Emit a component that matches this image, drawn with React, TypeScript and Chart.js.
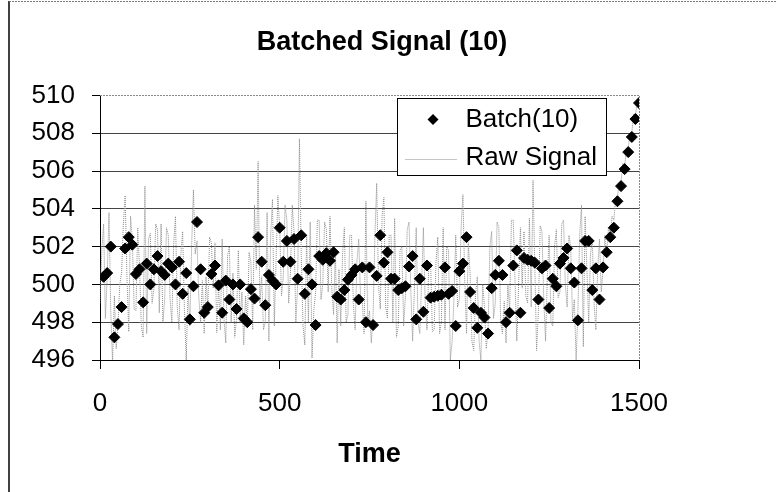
import { useEffect, useRef } from 'react';
import { Chart, registerables } from 'chart.js';

Chart.register(...registerables);

const FONT = "'Liberation Sans', Arial, sans-serif";
const TITLE = 'Batched Signal (10)';
const X_TITLE = 'Time';
const BATCH_LABEL = 'Batch(10)';
const RAW_LABEL = 'Raw Signal';
const BATCH_SIZE = 10;
const RAW_STEP = 5;
const X_TICKS = [0, 500, 1000, 1500];
const Y_TICKS = [496, 498, 500, 502, 504, 506, 508, 510];

// Batch(10): one averaged value per 10 time units (t = 10 ... 1500)
const batchValues = [
  500.4, 500.6, 502.0, 497.2, 497.9, 498.8, 501.9, 502.5, 502.1, 500.55,
  500.8, 499.05, 501.1, 500.0, 500.8, 501.5, 500.7, 500.5, 501.1, 500.9,
  500.0, 501.2, 499.5, 500.6, 498.15, 499.9, 503.3, 500.8, 498.5, 498.8,
  500.55, 501.0, 499.95, 498.5, 500.2, 499.2, 500.0, 498.7, 500.0, 498.2,
  498.0, 499.75, 499.25, 502.5, 501.2, 498.9, 500.5, 500.2, 500.0, 503.0,
  501.2, 502.3, 501.2, 502.4, 500.3, 502.6, 499.5, 500.8, 500.0, 497.85,
  501.5, 501.3, 501.65, 501.25, 501.7, 499.35, 499.2, 499.7, 500.25, 500.5,
  500.8, 499.2, 500.9, 498.0, 500.9, 497.85, 500.45, 502.6, 501.15, 501.7,
  500.3, 500.3, 499.7, 499.8, 499.9, 500.95, 501.5, 498.15, 500.3, 498.55,
  501.0, 499.3, 499.35, 499.4, 499.45, 500.9, 499.5, 499.65, 497.8, 500.7,
  501.1, 502.5, 499.6, 498.75, 497.7, 498.5, 498.25, 497.4, 499.8, 500.5,
  501.25, 500.5, 498.0, 498.5, 501.0, 501.8, 498.5, 501.4, 501.3, 501.25,
  501.15, 499.2, 500.85, 501.0, 498.75, 500.3, 499.9, 501.1, 501.4, 501.9,
  500.85, 500.1, 498.1, 500.85, 502.3, 502.3, 499.7, 500.85, 499.2, 500.9,
  501.7, 502.5, 503.0, 504.4, 505.2, 506.1, 507.0, 507.8, 508.75, 509.6,
];

// Raw signal, sampled every 5 time units (t = 0 ... 1500)
const rawValues = [
  499.0, 501.8, 503.2, 498.2, 500.4, 503.8, 498.6, 495.8, 499.4, 496.6, 497.8, 500.0, 500.6, 503.2, 504.7, 500.4, 497.5, 503.6, 502.4, 498.7,
  498.6, 503.0, 500.9, 497.8, 497.2, 505.2, 497.4, 502.4, 502.7, 499.0, 499.8, 503.2, 502.9, 498.5, 503.2, 498.0, 499.2, 503.0, 502.6, 499.2,
  498.0, 502.1, 503.6, 498.8, 497.6, 501.6, 502.8, 498.6, 496.0, 499.8, 497.8, 502.0, 505.0, 501.6, 502.3, 499.3, 498.0, 500.2, 497.4, 500.4,
  498.6, 502.5, 502.2, 499.8, 502.2, 497.45, 500.0, 497.6, 502.4, 498.2, 496.9, 501.5, 502.0, 498.0, 500.6, 497.2, 498.2, 501.8, 498.0, 499.6,
  496.8, 499.4, 497.8, 501.7, 501.2, 497.6, 504.2, 500.8, 506.5, 499.0, 500.4, 497.6, 498.0, 503.8, 497.0, 502.6, 504.5, 497.8, 501.3, 504.7,
  503.0, 499.4, 500.4, 504.2, 503.4, 499.0, 500.6, 504.2, 502.8, 498.0, 500.0, 507.7, 501.6, 497.8, 496.8, 502.6, 498.0, 503.3, 496.1, 498.6,
  499.6, 503.4, 503.4, 499.2, 500.0, 503.3, 502.9, 499.6, 503.6, 499.8, 498.4, 501.8, 496.9, 500.8, 497.8, 501.6, 503.0, 498.0, 498.4, 502.6,
  502.6, 499.0, 497.6, 501.2, 502.4, 499.4, 499.1, 497.4, 504.4, 498.0, 498.6, 496.9, 498.4, 502.5, 505.35, 500.0, 498.7, 503.6, 504.6, 498.8,
  498.2, 502.6, 502.6, 498.0, 503.5, 497.2, 497.8, 501.8, 502.0, 497.8, 499.4, 502.9, 503.3, 499.7, 497.0, 499.7, 503.0, 498.0, 497.4, 500.1,
  503.0, 499.0, 497.6, 501.0, 501.2, 497.5, 497.6, 501.2, 502.5, 497.4, 498.0, 503.0, 497.6, 502.0, 501.8, 496.0, 497.0, 499.2, 502.6, 498.8,
  499.2, 503.0, 504.75, 500.25, 497.4, 502.2, 500.6, 497.0, 496.5, 499.4, 500.4, 497.0, 496.0, 500.0, 498.8, 496.6, 497.6, 502.0, 502.8, 498.2,
  499.0, 503.3, 503.0, 498.0, 497.4, 499.1, 496.9, 500.0, 498.6, 503.4, 503.4, 500.2, 497.0, 500.0, 503.0, 499.8, 502.8, 499.4, 499.0, 503.5,
  498.8, 505.5, 501.0, 496.5, 498.6, 503.1, 502.8, 499.2, 497.0, 500.5, 502.6, 498.0, 497.8, 502.0, 502.9, 499.3, 499.6, 503.2, 503.4, 500.0,
  498.8, 502.6, 502.0, 498.2, 499.2, 496.0, 498.6, 502.6, 504.2, 496.7, 503.6, 500.8, 498.0, 501.6, 502.4, 499.0, 497.6, 500.8, 502.4, 499.6,
  500.8, 502.6, 501.6, 503.0, 502.6, 503.6, 503.4, 504.6, 504.6, 505.4, 505.4, 506.4, 506.2, 507.2, 507.2, 508.0, 508.0, 509.0, 508.8, 509.8,
  509.6,
];

const framePlugin = {
  id: 'frame',
  beforeDraw(chart: any) {
    const { ctx, width, height } = chart;
    ctx.save();
    ctx.fillStyle = '#ffffff';
    ctx.fillRect(0, 0, width, height);
    ctx.strokeStyle = '#000';
    ctx.lineWidth = 1.5;
    ctx.beginPath();
    ctx.moveTo(9, 1);
    ctx.lineTo(9, height);
    ctx.stroke();
    ctx.strokeStyle = '#777';
    ctx.lineWidth = 1;
    ctx.setLineDash([2, 1]);
    ctx.beginPath();
    ctx.moveTo(9, 1.5);
    ctx.lineTo(width, 1.5);
    ctx.stroke();
    ctx.restore();
  },
  beforeDatasetsDraw(chart: any) {
    const { ctx, chartArea } = chart;
    ctx.save();
    ctx.strokeStyle = '#888';
    ctx.lineWidth = 1;
    ctx.setLineDash([2, 1]);
    ctx.beginPath();
    ctx.moveTo(chartArea.left, Math.round(chartArea.top) + 0.5);
    ctx.lineTo(Math.round(chartArea.right) + 0.5, Math.round(chartArea.top) + 0.5);
    ctx.lineTo(Math.round(chartArea.right) + 0.5, chartArea.bottom);
    ctx.stroke();
    ctx.restore();
  },
};

const legendPlugin = {
  id: 'boxLegend',
  afterDraw(chart: any) {
    const { ctx, chartArea } = chart;
    const bx = Math.round(chartArea.left + 297) + 0.5;
    const by = Math.round(chartArea.top + 3) + 0.5;
    const bw = 209;
    const bh = 77;
    ctx.save();
    ctx.fillStyle = '#fff';
    ctx.fillRect(bx, by, bw, bh);
    ctx.strokeStyle = '#000';
    ctx.lineWidth = 1;
    ctx.strokeRect(bx, by, bw, bh);
    const batchDs = chart.data.datasets[0];
    const rawDs = chart.data.datasets[1];
    const row1 = by + 21;
    const row2 = by + 60;
    // diamond marker
    const mx = bx + 35.5;
    ctx.fillStyle = '#000';
    ctx.beginPath();
    ctx.moveTo(mx - 5.5, row1);
    ctx.lineTo(mx, row1 - 5.5);
    ctx.lineTo(mx + 5.5, row1);
    ctx.lineTo(mx, row1 + 5.5);
    ctx.closePath();
    ctx.fill();
    // dotted line
    ctx.strokeStyle = rawDs.borderColor;
    ctx.lineWidth = 1;
    ctx.setLineDash([1, 1]);
    ctx.beginPath();
    ctx.moveTo(bx + 8, Math.round(row2) + 0.5);
    ctx.lineTo(bx + 60, Math.round(row2) + 0.5);
    ctx.stroke();
    ctx.setLineDash([]);
    ctx.fillStyle = '#000';
    ctx.font = `26px ${FONT}`;
    ctx.textBaseline = 'middle';
    ctx.textAlign = 'left';
    ctx.fillText(batchDs.label, bx + 68, row1);
    ctx.fillText(rawDs.label, bx + 68, row2 - 1);
    ctx.restore();
  },
};

export default function App() {
  const ref = useRef<HTMLCanvasElement>(null);

  useEffect(() => {
    document.body.style.margin = '0';
    const canvas = ref.current;
    if (!canvas) return;
    const batchData = batchValues.map((v, i) => ({ x: (i + 1) * BATCH_SIZE, y: v }));
    const rawData = rawValues.map((v, i) => ({ x: i * RAW_STEP, y: v }));

    const chart = new Chart(canvas, {
      type: 'scatter',
      data: {
        datasets: [
          {
            label: BATCH_LABEL,
            data: batchData,
            showLine: false,
            pointStyle: 'rectRot',
            pointRadius: 5.5,
            pointBackgroundColor: '#000',
            pointBorderColor: '#000',
            pointBorderWidth: 1,
          },
          {
            label: RAW_LABEL,
            data: rawData,
            showLine: true,
            pointRadius: 0,
            borderColor: '#8c8c8c',
            borderWidth: 1,
            borderDash: [1, 1],
          },
        ],
      },
      options: {
        responsive: false,
        animation: false,
        events: [],
        layout: { padding: { left: 0, right: 12, top: 0, bottom: 0 } },
        plugins: {
          legend: { display: false },
          tooltip: { enabled: false },
          title: {
            display: true,
            text: TITLE,
            color: '#000',
            font: { family: FONT, size: 27, weight: 'bold' },
            padding: { top: 26, bottom: 37 },
          },
        },
        scales: {
          x: {
            type: 'linear',
            min: X_TICKS[0],
            max: X_TICKS[X_TICKS.length - 1],
            afterBuildTicks: (s: any) => {
              s.ticks = X_TICKS.map((value) => ({ value }));
            },
            ticks: {
              color: '#000',
              font: { family: FONT, size: 26 },
              padding: 19,
              maxRotation: 0,
              autoSkip: false,
              callback: (v: any) => String(v),
            },
            grid: { drawOnChartArea: false, drawTicks: true, tickLength: 9, tickColor: '#000' },
            border: { display: true, color: '#000', width: 1 },
            title: {
              display: true,
              text: X_TITLE,
              color: '#000',
              font: { family: FONT, size: 27, weight: 'bold' },
              padding: { top: 0, bottom: 21 },
            },
            afterFit: (s: any) => {
              s.height = 132;
            },
          },
          y: {
            type: 'linear',
            min: Y_TICKS[0],
            max: Y_TICKS[Y_TICKS.length - 1],
            afterBuildTicks: (s: any) => {
              s.ticks = Y_TICKS.map((value) => ({ value }));
            },
            ticks: {
              color: '#000',
              font: { family: FONT, size: 26 },
              padding: 17,
              autoSkip: false,
              callback: (v: any) => String(v),
            },
            grid: {
              color: (c: any) => (c.tick && c.tick.value === Y_TICKS[Y_TICKS.length - 1] ? 'rgba(0,0,0,0)' : '#444'),
              lineWidth: 1,
              drawTicks: true,
              tickLength: 8,
              tickColor: '#000',
            },
            border: { display: true, color: '#000', width: 1 },
            afterFit: (s: any) => {
              s.width = 100;
            },
          },
          y2: {
            type: 'linear',
            position: 'right',
            display: true,
            grid: { display: false, drawTicks: false },
            ticks: { display: false },
            border: { display: false },
            afterFit: (s: any) => {
              s.width = 125;
            },
          },
        },
      } as any,
      plugins: [framePlugin, legendPlugin],
    });

    return () => chart.destroy();
  }, []);

  return (
    <div style={{ width: 776, height: 492 }}>
      <canvas ref={ref} width={776} height={492} style={{ display: 'block' }} />
    </div>
  );
}
